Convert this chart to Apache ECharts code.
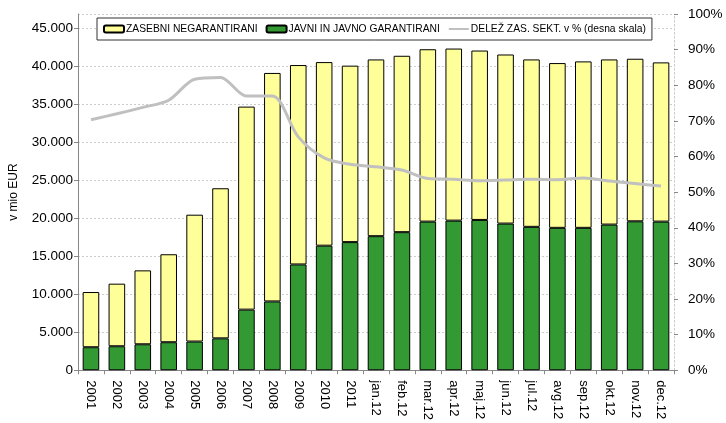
<!DOCTYPE html>
<html>
<head>
<meta charset="utf-8">
<script src="https://cdn.jsdelivr.net/npm/echarts@6/dist/echarts.min.js"></script>
<style>
  html, body { margin: 0; padding: 0; background: #fff; }
  #chart { width: 726px; height: 423px; }
</style>
</head>
<body>
<div id="chart"></div>
<script>
const categories = ['2001', '2002', '2003', '2004', '2005', '2006', '2007', '2008', '2009', '2010', '2011',
  'jan.12', 'feb.12', 'mar.12', 'apr.12', 'maj.12', 'jun.12', 'jul.12', 'avg.12', 'sep.12', 'okt.12', 'nov.12', 'dec.12']

const totals = [10300, 11400, 13150, 15270, 20480, 23960, 34710, 39140, 40180, 40570, 40100,
  40920, 41400, 42260, 42350, 42090, 41570, 40920, 40440, 40660, 40920, 41010, 40530]
const javni = [3030, 3160, 3420, 3690, 3780, 4200, 7980, 9060, 13930, 16400, 16870,
  17650, 18180, 19570, 19700, 19790, 19310, 18880, 18750, 18750, 19180, 19610, 19570]
const zasebni = totals.map((t, i) => t - javni[i])
// share of private sector, % (right scale)
const delez = [70.3, 72.0, 73.8, 75.8, 81.7, 82.2, 77.0, 77.0, 65.5, 59.6, 57.8,
  57.1, 56.2, 53.8, 53.6, 53.2, 53.4, 53.6, 53.5, 54.0, 53.1, 52.4, 51.7]

const leftTicks = v => v === 0 ? '0' : (v % 5000 === 0 ? (v / 1000).toFixed(3) : '')

const chart = echarts.init(document.getElementById('chart'))
const font = 'Liberation Sans, Arial, sans-serif'

chart.setOption({
  animation: false,
  textStyle: { fontFamily: font },
  grid: { left: 78, right: 52, top: 14, bottom: 50 },
  legend: {
    data: [
      'ZASEBNI NEGARANTIRANI',
      'JAVNI IN JAVNO GARANTIRANI',
      { name: 'DELEŽ ZAS. SEKT. v % (desna skala)', itemStyle: { opacity: 0 } }
    ],
    left: 97,
    top: 18,
    itemWidth: 20,
    itemHeight: 7,
    itemGap: 8,
    padding: [6, 6],
    borderColor: '#333',
    borderWidth: 1,
    backgroundColor: '#fff',
    textStyle: { fontSize: 10.3, color: '#000', fontFamily: font, padding: [0, 0, 0, -3] }
  },
  xAxis: {
    type: 'category',
    data: categories,
    axisLine: { lineStyle: { color: '#888' } },
    axisTick: { show: true, length: 4, lineStyle: { color: '#888' } },
    axisLabel: { rotate: -90, fontSize: 13, color: '#000', margin: 10 }
  },
  yAxis: [
    {
      type: 'value',
      min: 0,
      max: 46900,
      interval: 5000,
      name: 'v mio EUR',
      nameLocation: 'middle',
      nameGap: 58,
      nameTextStyle: { fontSize: 12, color: '#000' },
      axisLine: { show: true, lineStyle: { color: '#888' } },
      axisTick: { show: true, length: 4, lineStyle: { color: '#888' } },
      axisLabel: { fontSize: 13.5, color: '#000', formatter: leftTicks, showMaxLabel: false, margin: 5 },
      splitLine: { lineStyle: { color: '#ccc', type: [2, 2] } }
    },
    {
      type: 'value',
      min: 0,
      max: 100,
      interval: 10,
      position: 'right',
      axisLine: { show: true, lineStyle: { color: '#ccc', type: [2, 2] } },
      axisTick: { show: true, length: 4, lineStyle: { color: '#888' } },
      axisLabel: { fontSize: 13.5, color: '#000', formatter: '{value}%', margin: 14 },
      splitLine: { show: false }
    }
  ],
  series: [
    {
      name: 'JAVNI IN JAVNO GARANTIRANI',
      type: 'bar',
      stack: 'dolg',
      data: javni,
      barCategoryGap: '36%',
      itemStyle: { color: '#339933', borderColor: '#000', borderWidth: 1 }
    },
    {
      name: 'ZASEBNI NEGARANTIRANI',
      type: 'bar',
      stack: 'dolg',
      data: zasebni,
      itemStyle: { color: '#ffff99', borderColor: '#000', borderWidth: 1 }
    },
    {
      name: 'DELEŽ ZAS. SEKT. v % (desna skala)',
      type: 'line',
      yAxisIndex: 1,
      data: delez,
      smooth: 0.3,
      symbol: 'none',
      lineStyle: { color: '#c0c0c0', width: 3 },
      itemStyle: { color: '#c0c0c0' },
      z: 5
    }
  ]
})
</script>
</body>
</html>
